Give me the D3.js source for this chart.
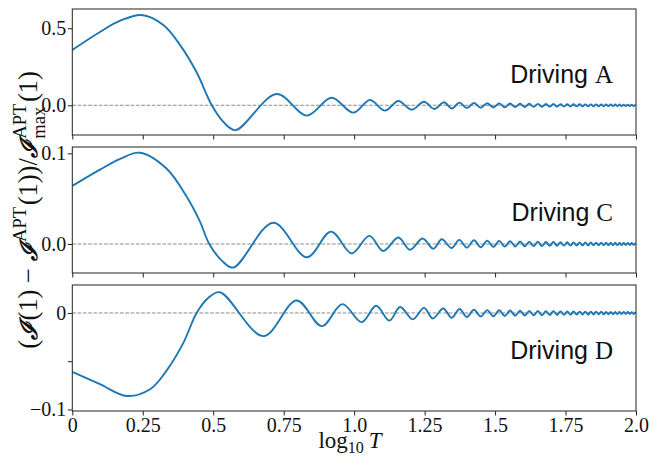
<!DOCTYPE html>
<html>
<head>
<meta charset="utf-8">
<script src="https://cdn.jsdelivr.net/npm/d3@7"></script>
<style>
  body { margin: 0; background: #fff; }
</style>
</head>
<body>
<script>
// ---- data ----
// log10 T of the fast wiggles after log10 T = 1.4 (same for all three panels)
var tailLogT = [
  1.3997, 1.4252, 1.4493, 1.4722, 1.4939, 1.5145, 1.5343, 1.5532, 1.5713, 1.5886,
  1.6053, 1.6214, 1.6369, 1.6519, 1.6663, 1.6803, 1.6939, 1.7071, 1.7198, 1.7322,
  1.7443, 1.7560, 1.7674, 1.7786, 1.7894, 1.8000, 1.8104, 1.8204, 1.8304, 1.8399,
  1.8494, 1.8586, 1.8677, 1.8766, 1.8852, 1.8938, 1.9021, 1.9103, 1.9184, 1.9263,
  1.9340, 1.9416, 1.9491, 1.9564, 1.9637, 1.9708, 1.9778, 1.9847, 1.9915, 1.9982
];

// Driving A
var aHeadLogT = [0, 0.098, 0.17, 0.246, 0.323, 0.382, 0.441, 0.495, 0.536, 0.579,
  0.725, 0.832, 0.920, 0.997, 1.056, 1.109, 1.157, 1.204, 1.248, 1.284, 1.319, 1.346, 1.374];
var aHeadVal = [0.359, 0.476, 0.549, 0.586, 0.521, 0.392, 0.214, 0.0, -0.108, -0.161,
  0.073, -0.067, 0.049, -0.048, 0.034, -0.035, 0.028, -0.029, 0.023, -0.024, 0.020, -0.021, 0.017];
var aTailVal = [
  -0.018, 0.015, -0.016, 0.0135, -0.0144, 0.0122, -0.0131, 0.0112, -0.0121, 0.0103,
  -0.0112, 0.0096, -0.0104, 0.0089, -0.0097, 0.0084, -0.0091, 0.0079, -0.0086, 0.0074,
  -0.0081, 0.0070, -0.0077, 0.0067, -0.0073, 0.0063, -0.0070, 0.0060, -0.0066, 0.0058,
  -0.0064, 0.0055, -0.0061, 0.0053, -0.0059, 0.0051, -0.0056, 0.0049, -0.0054, 0.0047,
  -0.0052, 0.0046, -0.0051, 0.0044, -0.0049, 0.0043, -0.0047, 0.0041, -0.0046, 0.0040
];

// Driving C
var cHeadLogT = [0, 0.098, 0.17, 0.24, 0.335, 0.406, 0.453, 0.486, 0.528, 0.571,
  0.713, 0.832, 0.918, 0.991, 1.054, 1.103, 1.157, 1.198, 1.243, 1.281, 1.311, 1.346, 1.373];
var cHeadVal = [0.064, 0.082, 0.094, 0.1007, 0.083, 0.052, 0.0246, 0.0, -0.0175, -0.026,
  0.0235, -0.0147, 0.0136, -0.0103, 0.009, -0.0077, 0.0072, -0.0063, 0.0060, -0.0052, 0.0052, -0.0045, 0.0045];
var cTailVal = [
  -0.0040, 0.0041, -0.0036, 0.0037, -0.0032, 0.0034, -0.0029, 0.0031, -0.0027, 0.0028,
  -0.0025, 0.0026, -0.0023, 0.0025, -0.0022, 0.0023, -0.0020, 0.0022, -0.0019, 0.0020,
  -0.0018, 0.0019, -0.0017, 0.0018, -0.0016, 0.0017, -0.0015, 0.0017, -0.0015, 0.0016,
  -0.0014, 0.0015, -0.0014, 0.0015, -0.0013, 0.0014, -0.0013, 0.0014, -0.0012, 0.0013,
  -0.0012, 0.0013, -0.0011, 0.0012, -0.0011, 0.0012, -0.0011, 0.0011, -0.0010, 0.0011
];

// Driving D
var dHeadLogT = [0, 0.098, 0.193, 0.276, 0.335, 0.394, 0.441, 0.482, 0.524, 0.678, 0.796, 0.885,
  0.958, 1.027, 1.078, 1.125, 1.163, 1.208, 1.248, 1.279, 1.316, 1.346, 1.374];
var dHeadVal = [-0.061, -0.0738, -0.086, -0.079, -0.0595, -0.031, 0.0, 0.0155, 0.0215, -0.024, 0.013, -0.0136,
  0.0092, -0.0095, 0.0075, -0.0079, 0.0062, -0.0066, 0.0053, -0.0057, 0.0047, -0.0051, 0.0042];
var dTailVal = [
  -0.0042, 0.0034, -0.0037, 0.0030, -0.0034, 0.0028, -0.0031, 0.0025, -0.0028, 0.0023,
  -0.0026, 0.0022, -0.0024, 0.0020, -0.0023, 0.0019, -0.0021, 0.0018, -0.0020, 0.0017,
  -0.0019, 0.0016, -0.0018, 0.0015, -0.0017, 0.0014, -0.0016, 0.0014, -0.0016, 0.0013,
  -0.0015, 0.0012, -0.0014, 0.0012, -0.0014, 0.0011, -0.0013, 0.0011, -0.0013, 0.0011,
  -0.0012, 0.0010, -0.0012, 0.0010, -0.0011, 0.0010, -0.0011, 0.0009, -0.0011, 0.0009
];

// ticks
var xTicks = [0, 0.25, 0.5, 0.75, 1.0, 1.25, 1.5, 1.75, 2.0];
var xTickLabels = ["0", "0.25", "0.5", "0.75", "1.0", "1.25", "1.5", "1.75", "2.0"];
var aTicks = [0, 0.5], aTickLabels = ["0.0", "0.5"];
var cTicks = [0, 0.1], cTickLabels = ["0.0", "0.1"];
var dTicks = [-0.1, -0.05, 0], dTickLabels = ["\u22120.1", "", "0"];
var panelNames = ["A", "C", "D"];

// ---- drawing ----
var W = 650, H = 462;
var left = 72.3, right = 636;
var serif = "'Liberation Serif', 'DejaVu Serif', serif";
var sans = "'Liberation Sans', Arial, sans-serif";

var svg = d3.select(document.body).append("svg")
  .attr("width", W).attr("height", H);

var x = d3.scaleLinear().domain([0, 2]).range([left, right]);

var panels = [
  { top: 9, bottom: 135, domain: [-0.193, 0.625],
    logT: aHeadLogT.concat(tailLogT), val: aHeadVal.concat(aTailVal), ticks: aTicks, labels: aTickLabels },
  { top: 147, bottom: 273, domain: [-0.032, 0.107],
    logT: cHeadLogT.concat(tailLogT), val: cHeadVal.concat(cTailVal), ticks: cTicks, labels: cTickLabels },
  { top: 285, bottom: 411, domain: [-0.1016, 0.029],
    logT: dHeadLogT.concat(tailLogT), val: dHeadVal.concat(dTailVal), ticks: dTicks, labels: dTickLabels }
];

panels.forEach(function(p, i) {
  var y = d3.scaleLinear().domain(p.domain).range([p.bottom, p.top]);
  var g = svg.append("g");

  svg.append("clipPath").attr("id", "clip" + i)
    .append("rect").attr("x", left).attr("y", p.top)
    .attr("width", right - left).attr("height", p.bottom - p.top);

  // zero line
  g.append("line")
    .attr("x1", left).attr("x2", right)
    .attr("y1", y(0)).attr("y2", y(0))
    .attr("stroke", "#8c8c8c").attr("stroke-width", 1)
    .attr("stroke-dasharray", "3.7,1.6");

  var pts = p.logT.map(function(t, j) { return [t, p.val[j]]; });
  var line = d3.line()
    .x(function(d) { return x(d[0]); })
    .y(function(d) { return y(d[1]); })
    .curve(d3.curveCatmullRom.alpha(0.5));

  g.append("path").datum(pts)
    .attr("d", line)
    .attr("clip-path", "url(#clip" + i + ")")
    .attr("fill", "none")
    .attr("stroke", "#1f77b4")
    .attr("stroke-width", 1.9);

  // x axis (labels only on the bottom panel)
  var ax = d3.axisBottom(x).tickValues(xTicks).tickSize(4.5).tickPadding(2)
    .tickFormat(function(d, k) { return i === 2 ? xTickLabels[k] : ""; });
  var gx = g.append("g").attr("transform", "translate(0," + p.bottom + ")").call(ax);
  gx.select(".domain").remove();

  var ay = d3.axisLeft(y).tickValues(p.ticks).tickSize(4.5).tickPadding(1.5)
    .tickFormat(function(d, k) { return p.labels[k]; });
  var gy = g.append("g").attr("transform", "translate(" + left + ",0)").call(ay);
  gy.select(".domain").remove();

  [gx, gy].forEach(function(a) {
    a.selectAll("line").attr("stroke", "#222").attr("stroke-width", 1);
    a.selectAll("text").attr("font-family", serif).attr("font-size", 20).attr("fill", "#111");
  });

  // frame
  g.append("rect")
    .attr("x", left).attr("y", p.top)
    .attr("width", right - left).attr("height", p.bottom - p.top)
    .attr("fill", "none").attr("stroke", "#222").attr("stroke-width", 1);

  // panel label
  var t = g.append("text")
    .attr("x", 613).attr("y", p.top + 73.7)
    .attr("text-anchor", "end").attr("font-size", 25).attr("fill", "#111");
  t.append("tspan").attr("font-family", sans).text("Driving ");
  t.append("tspan").attr("font-family", serif).text(panelNames[i]);
});

// x label
var xl = svg.append("text")
  .attr("x", 350).attr("y", 448)
  .attr("text-anchor", "middle").attr("font-family", serif)
  .attr("font-size", 23).attr("fill", "#111");
xl.append("tspan").text("log");
xl.append("tspan").attr("font-size", 16).attr("dy", 5).text("10");
xl.append("tspan").attr("dy", -5).attr("dx", 5).attr("font-style", "italic").text("T");

// y label, built from pieces so the sub/superscripts can stack
var f = 26.5;
var yl = svg.append("g");
var pieces = [
  { t: "(", s: 1 }, { t: "\u2110", s: 0.9, cal: true }, { t: "(1)", s: 1 }, { t: "\u2212", s: 1, pad: 0.25 },
  { t: "\u2110", s: 0.9, cal: true }, { t: "APT", s: 0.7, dy: -0.42 }, { t: "(1))/", s: 1 },
  { t: "\u2110", s: 0.9, cal: true }, { t: "APT", s: 0.7, dy: -0.42, stack: "max" }, { t: "(1)", s: 1 }
];
var cx = 0;
pieces.forEach(function(pc) {
  if (pc.pad) cx += pc.pad * f;
  var el = yl.append("text")
    .attr("x", cx).attr("y", (pc.dy || 0) * f)
    .attr("font-family", pc.cal ? "'DejaVu Serif', serif" : serif)
    .attr("font-style", pc.cal ? "italic" : "normal")
    .attr("font-weight", pc.cal ? "bold" : "normal")
    .attr("font-size", pc.s * f).attr("fill", "#111")
    .text(pc.t);
  var w = el.node().getComputedTextLength();
  if (pc.stack) {
    var sub = yl.append("text")
      .attr("x", cx).attr("y", 0.3 * f)
      .attr("font-family", serif).attr("font-size", 0.7 * f).attr("fill", "#111")
      .text(pc.stack);
    w = Math.max(w, sub.node().getComputedTextLength());
  }
  cx += w + (pc.cal ? 1.5 : 0) + (pc.pad ? pc.pad * f : 0) + (pc.dy ? 0.06 * f : 0);
});
// centre the label on the middle panel
yl.attr("transform", "translate(37," + (210 + cx / 2) + ") rotate(-90)");
</script>
</body>
</html>
